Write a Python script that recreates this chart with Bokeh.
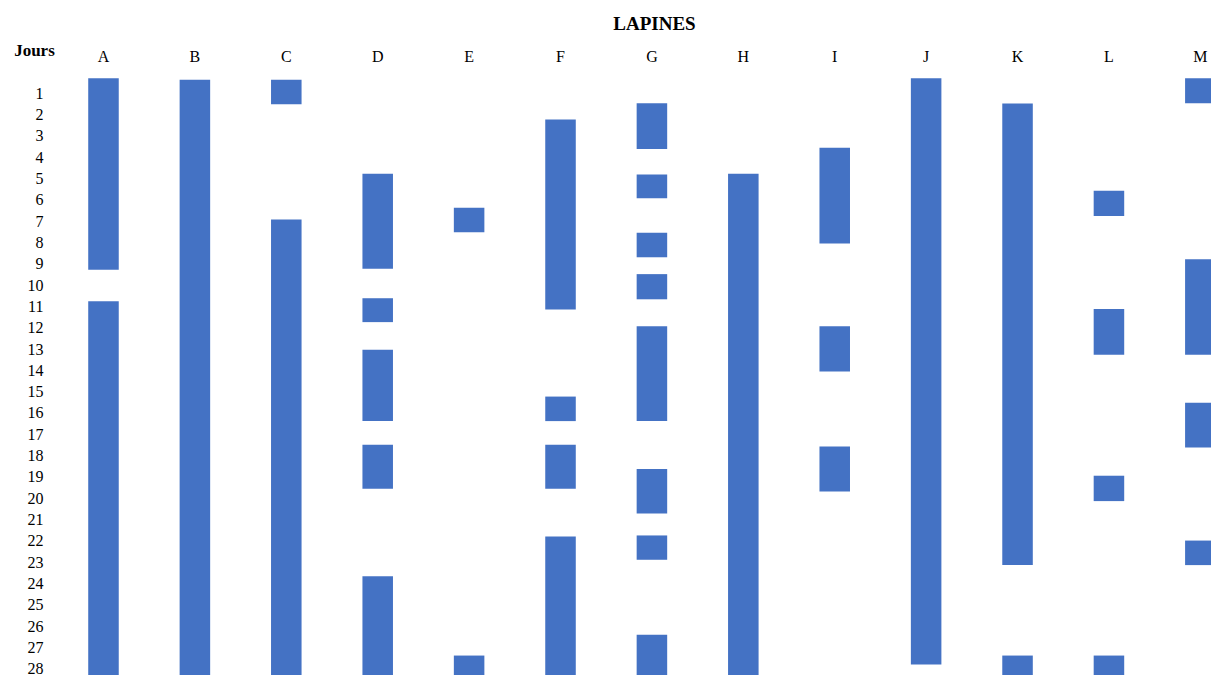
from bokeh.plotting import figure
from bokeh.models import Range1d, FixedTicker, ColumnDataSource, Label
from bokeh.embed import file_html
from bokeh.resources import INLINE

# Column categories (rabbits) and day tick labels
lapines = ["A", "B", "C", "D", "E", "F", "G", "H", "I", "J", "K", "L", "M"]
jours = [1, 2, 3, 4, 5, 6, 7, 8, 9, 10, 11, 12, 13, 14, 15, 16, 17, 18, 19, 20,
         21, 22, 23, 24, 25, 26, 27, 28]
titre = "LAPINES"
titre_axe_jours = "Jours"

# Periods (day units; 28.6 = continues past the last day)
bar_lapine = ["A", "A",
              "B",
              "C", "C",
              "D", "D", "D", "D", "D",
              "E", "E",
              "F", "F", "F", "F",
              "G", "G", "G", "G", "G", "G", "G", "G",
              "H",
              "I", "I", "I",
              "J",
              "K", "K",
              "L", "L", "L", "L",
              "M", "M", "M", "M"]
bar_debut = [0.31, 10.76,
             0.38,
             0.38, 6.93,
             4.79, 10.62, 13.04, 17.49, 23.65,
             6.38, 27.37,
             2.24, 15.23, 17.49, 21.79,
             1.48, 4.82, 7.55, 9.49, 11.93, 18.62, 21.74, 26.40,
             4.79,
             3.57, 11.93, 17.57,
             0.31,
             1.49, 27.37,
             5.58, 11.13, 18.94, 27.37,
             0.31, 8.79, 15.52, 21.98]
bar_fin = [9.29, 28.6,
           28.6,
           1.53, 28.6,
           9.24, 11.74, 16.38, 19.55, 28.6,
           7.53, 28.6,
           11.15, 16.38, 19.55, 28.6,
           3.62, 5.93, 8.70, 10.67, 16.38, 20.71, 22.88, 28.6,
           28.6,
           8.06, 14.06, 19.68,
           27.79,
           23.12, 28.6,
           6.76, 13.27, 20.13, 28.6,
           1.48, 13.27, 17.62, 23.13]

src = ColumnDataSource(dict(
    x=[lapines.index(c) for c in bar_lapine],
    debut=bar_debut,
    fin=bar_fin,
))

SERIF = "Liberation Serif"

p = figure(width=1211, height=675,
           x_range=Range1d(-0.525, 12.122),
           y_range=Range1d(28.305, -0.055),
           x_axis_location="above",
           output_backend="svg", toolbar_location=None,
           min_border_left=55, min_border_right=0,
           min_border_top=70, min_border_bottom=0)

p.vbar(x="x", top="debut", bottom="fin", width=0.334, source=src,
       fill_color="#4472C4", line_color=None)

p.outline_line_color = None
p.xgrid.visible = False
p.ygrid.visible = False
p.background_fill_color = "white"
p.border_fill_color = "white"

xa = p.xaxis[0]
xa.ticker = FixedTicker(ticks=list(range(len(lapines))))
xa.major_label_overrides = {i: c for i, c in enumerate(lapines)}
xa.axis_line_color = None
xa.major_tick_line_color = None
xa.minor_tick_line_color = None
xa.major_tick_out = 0
xa.major_label_standoff = 6
xa.major_label_text_font = SERIF
xa.major_label_text_font_size = "16px"
xa.major_label_text_color = "black"

ya = p.yaxis[0]
ya.ticker = FixedTicker(ticks=jours)
ya.axis_line_color = None
ya.major_tick_line_color = None
ya.minor_tick_line_color = None
ya.major_tick_out = 0
ya.major_label_standoff = 12
ya.major_label_text_font = SERIF
ya.major_label_text_font_size = "16px"
ya.major_label_text_color = "black"

# Title and the "Jours" header, placed in the top border (not clipped)
p.add_layout(Label(x=6.028, y=-2.28, text=titre, text_align="center",
                   text_baseline="alphabetic", text_font=SERIF,
                   text_font_style="bold", text_font_size="19px",
                   text_color="black"), "above")
p.add_layout(Label(x=-0.755, y=-0.98, text=titre_axe_jours, text_align="center",
                   text_baseline="alphabetic", text_font=SERIF,
                   text_font_style="bold", text_font_size="17px",
                   text_color="black"), "above")

open("out.html", "w").write(file_html(p, INLINE))
